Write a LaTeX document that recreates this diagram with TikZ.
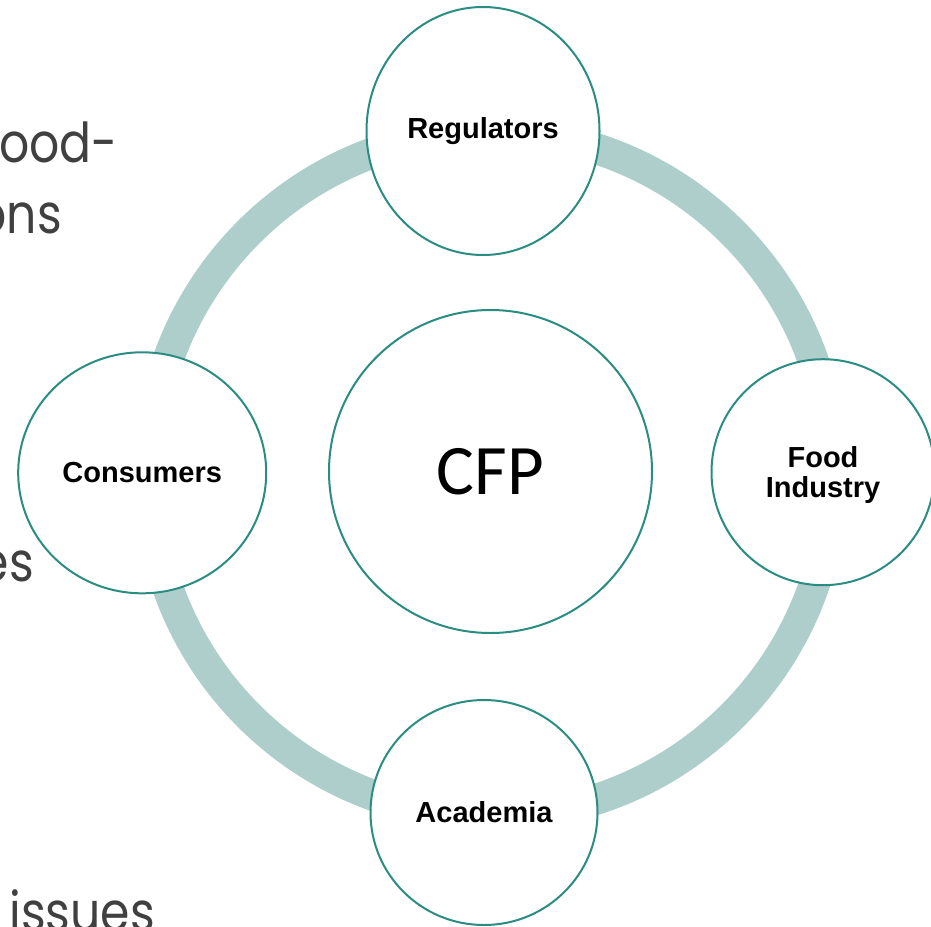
\documentclass[tikz,border=0pt]{standalone}
\usepackage{fontspec}
\setmainfont{Liberation Sans}
\newfontfamily\cfpfont{Carlito}
\newfontfamily\bgfont[FakeStretch=0.86]{Poppins}
\usetikzlibrary{shapes.geometric}
\definecolor{tealline}{HTML}{2B8C82}
\definecolor{ringcol}{HTML}{AECECB}
\definecolor{bgtext}{HTML}{404040}
\begin{document}
\begin{tikzpicture}[x=1pt,y=1pt,
  bubble/.style={ellipse, draw=tealline, fill=white, line width=2pt, inner sep=0pt,
    align=center, font=\fontsize{29}{30}\selectfont\bfseries},
  bgtxt/.style={anchor=base east, inner sep=0pt, text=bgtext,
    font=\bgfont\fontsize{55}{60}\selectfont},
  ringline/.style={draw=ringcol, line width=31pt}]
\useasboundingbox (0,0) rectangle (931,-926);
\clip (0,0) rectangle (931,-926);
% background slide text fragments
\node[bgtxt] (t1) at (118,-162.3) {ood-};
\node[bgtxt] (t2) at (62,-233.3) {ons};
\node[bgtxt] (t3) at (34,-581.7) {es};
\node[bgtxt] (t4) at (155,-931) {y issues};
% ring
\coordinate (rc) at (490.5,-474);
\draw[ringline] (rc) circle (342pt);
% circles
\node[bubble, minimum width=323pt, minimum height=323pt,
  font=\cfpfont\fontsize{71}{80}\selectfont] (cfp) at (490.5,-471.5) {CFP};
\node[bubble, minimum width=233pt, minimum height=248pt] (reg) at (483,-131) {Regulators};
\node[bubble, minimum width=248pt, minimum height=241pt] (con) at (142.2,-472.8) {Consumers};
\node[bubble, minimum width=223pt, minimum height=226pt, text depth=0pt] (food) at (823,-472.2) {Food\\Industry};
\node[bubble, minimum width=227pt, minimum height=225pt] (aca) at (484,-812.5) {Academia};
\end{tikzpicture}
\end{document}
